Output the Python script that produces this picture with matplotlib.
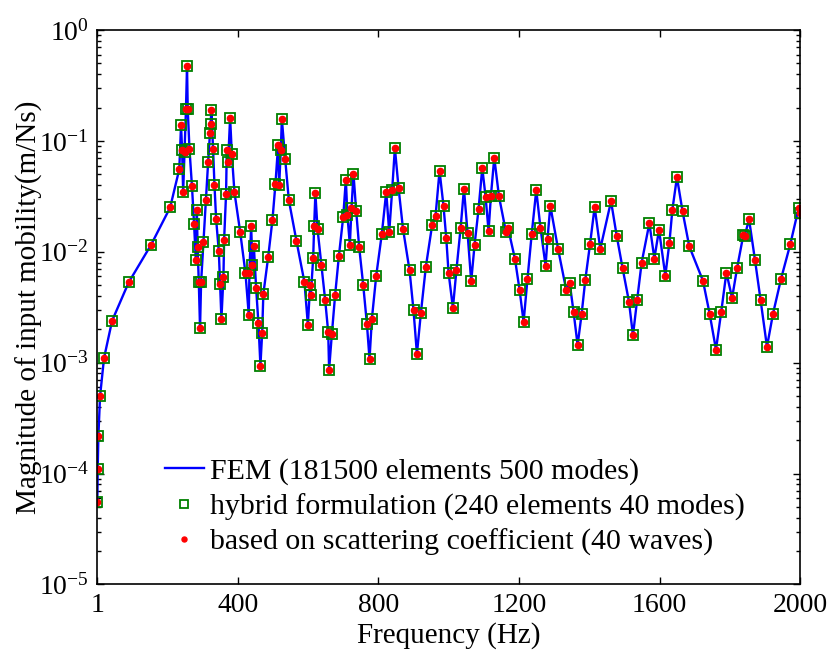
import matplotlib
matplotlib.use("Agg")
import matplotlib.pyplot as plt
from matplotlib.ticker import LogLocator, NullFormatter, FixedLocator

plt.rcParams["font.family"] = ["Liberation Serif", "DejaVu Serif"]
plt.rcParams["mathtext.fontset"] = "custom"
plt.rcParams["mathtext.rm"] = "Liberation Serif"

# frequency (Hz) and input mobility magnitude (m/Ns)
freq = [1, 2, 4, 8.7, 20, 43, 90, 154, 208, 234, 239, 242, 245, 249, 253, 256, 258,
        263, 270, 276, 281, 284, 286, 289.5, 293, 296, 302.6, 309.4, 316, 321.6, 323,
        325.3, 330, 334, 338.7, 346.4, 350, 353.8, 359.5, 361.5, 367, 369, 372.8, 378.5,
        383.4, 390.8, 407, 422, 431.6, 433.4, 438.3, 442, 446, 452.5, 459, 464.7, 469.6,
        473, 486.6, 498.9, 507.4, 515, 518, 522.7, 525.6, 535, 545.5, 567, 590, 599.6,
        606, 608, 614.7, 617.5, 621, 627, 638, 648.8, 657.4, 660, 667.9, 677, 687.7, 700,
        707.6, 712, 719, 723.6, 729.3, 737, 745.5, 757, 767.4, 774.9, 781.7, 794, 810,
        822.4, 830.9, 839.4, 847, 857.4, 870, 888.7, 900, 909.7, 921, 935, 953, 962.6,
        974, 985.3, 993, 999.6, 1012, 1022, 1034, 1043.4, 1053.6, 1064, 1073.5, 1085,
        1095.5, 1105, 1113.4, 1120, 1129.6, 1143, 1163, 1168.6, 1188.5, 1201.6, 1213,
        1224, 1236, 1249, 1261, 1275.5, 1281, 1289, 1311, 1334.5, 1344, 1355, 1366.6,
        1378, 1388.5, 1402, 1415, 1431, 1461.6, 1477.6, 1494.6, 1512.6, 1524, 1535.6,
        1548.7, 1570.6, 1584.8, 1598, 1616, 1627.5, 1636, 1649, 1665, 1684, 1723, 1742,
        1760, 1775, 1789.6, 1805.8, 1820, 1838, 1842, 1854, 1871, 1887, 1905, 1922, 1945,
        1971.6, 1995, 2000]
mobility = [5.5e-5, 1.1e-4, 2.2e-4, 4.97e-4, 1.10e-3, 2.39e-3, 5.29e-3, 1.16e-2, 2.51e-2,
            5.56e-2, 0.139, 0.083, 0.0345, 0.08, 0.194, 0.474, 0.194, 0.084, 0.0393,
            0.0178, 8.4e-3, 0.0238, 0.011, 5.3e-3, 2.04e-3, 5.3e-3, 0.0122, 0.0292,
            0.0643, 0.119, 0.143, 0.189, 0.085, 0.0404, 0.0197, 0.0101, 5.1e-3, 2.48e-3,
            5.9e-3, 0.0129, 0.0333, 0.0824, 0.0643, 0.162, 0.076, 0.0345, 0.0152, 6.5e-3,
            2.69e-3, 6.5e-3, 0.0172, 7.6e-3, 0.0113, 4.7e-3, 2.28e-3, 9.4e-4, 1.85e-3,
            4.16e-3, 8.9e-3, 0.0194, 0.041, 0.092, 0.040, 0.083, 0.158, 0.069, 0.0292,
            0.0126, 5.29e-3, 2.2e-3, 5.0e-3, 4.04e-3, 8.8e-3, 0.0172, 0.0338, 0.0161,
            7.6e-3, 3.67e-3, 1.89e-3, 8.65e-4, 1.83e-3, 4.04e-3, 9.1e-3, 0.0205, 0.0448,
            0.0214, 0.0116, 0.0246, 0.0504, 0.0233, 0.011, 5.0e-3, 2.25e-3, 1.08e-3,
            2.5e-3, 6.1e-3, 0.0146, 0.0347, 0.015, 0.0364, 0.0865, 0.0378, 0.0162, 6.8e-3,
            2.96e-3, 1.2e-3, 2.82e-3, 7.3e-3, 0.0175, 0.021, 0.0537, 0.0258, 0.0134,
            6.5e-3, 3.11e-3, 6.84e-3, 0.0165, 0.037, 0.0149, 5.4e-3, 0.0115, 0.0244,
            0.0571, 0.0311, 0.0154, 0.0318, 0.0707, 0.0316, 0.015, 0.0165, 8.6e-3,
            4.52e-3, 2.33e-3, 5.68e-3, 0.0144, 0.036, 0.0164, 7.48e-3, 0.0131, 0.026,
            0.0106, 4.48e-3, 5.26e-3, 2.88e-3, 1.44e-3, 2.75e-3, 5.6e-3, 0.0118, 0.0254,
            0.0106, 0.0286, 0.014, 7.08e-3, 3.55e-3, 1.76e-3, 3.64e-3, 8.0e-3, 0.0181,
            8.7e-3, 0.0158, 6.1e-3, 0.012, 0.0239, 0.0471, 0.0231, 0.0112, 5.48e-3,
            2.76e-3, 1.31e-3, 2.88e-3, 6.5e-3, 3.83e-3, 7.13e-3, 0.0143, 0.014, 0.0197,
            8.4e-3, 3.64e-3, 1.39e-3, 2.75e-3, 5.7e-3, 0.0118, 0.0248, 0.0223]

xticks = [1, 400, 800, 1200, 1600, 2000]

fig = plt.figure(figsize=(8.32, 6.53), dpi=100)
ax = fig.add_axes([0.117, 0.105, 0.845, 0.849])

ax.semilogy(freq, mobility, color="blue", lw=1.7,
            label="FEM (181500 elements 500 modes)")
ax.semilogy(freq, mobility, ls="none", marker="s", ms=6.5, mfc="none",
            mec=(0, 0.5, 0), mew=1.3,
            label="hybrid formulation (240 elements 40 modes)")
ax.semilogy(freq, mobility, ls="none", marker="o", ms=4.5, mfc="red", mec="red",
            label="based on scattering coefficient (40 waves)")

ax.set_xlim(1, 2000)
ax.set_ylim(1e-5, 1)
ax.xaxis.set_major_locator(FixedLocator(xticks))
ax.set_xticklabels([str(t) for t in xticks])
ax.yaxis.set_major_locator(LogLocator(base=10, numticks=10))
ax.yaxis.set_minor_locator(LogLocator(base=10, subs=range(2, 10), numticks=10))
ax.yaxis.set_minor_formatter(NullFormatter())

ax.tick_params(which="both", direction="in", top=True, right=True,
               labelsize=20, width=1)
ax.tick_params(which="major", length=5, pad=6)
ax.tick_params(which="minor", length=3)
for s in ax.spines.values():
    s.set_linewidth(1.2)

ax.set_xlabel("Frequency (Hz)", fontsize=21, labelpad=3)
ax.set_ylabel("Magnitude of input mobility(m/Ns)", fontsize=21, labelpad=-3)

ax.legend(loc="upper left", bbox_to_anchor=(0.075, 0.255), frameon=False,
          fontsize=21.5, handlelength=1.3, handletextpad=0.2, labelspacing=0.27,
          borderpad=0, markerscale=0.8)

fig.savefig("out.png", dpi=100)
